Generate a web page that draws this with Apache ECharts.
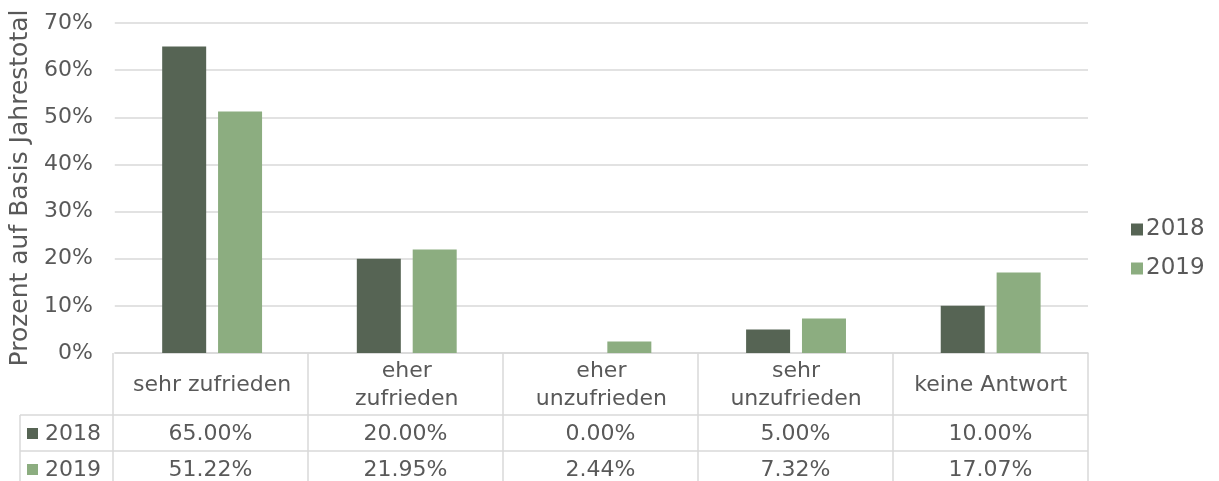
<!DOCTYPE html>
<html>
<head>
<meta charset="utf-8">
<script src="https://cdn.jsdelivr.net/npm/echarts@6/dist/echarts.min.js"></script>
<style>
  html, body { margin: 0; padding: 0; background: #fff; }
  #main { width: 1219px; height: 481px; }
</style>
</head>
<body>
<div id="main"></div>
<script>
// data
const categories = ['sehr zufrieden', 'eher\nzufrieden', 'eher\nunzufrieden', 'sehr\nunzufrieden', 'keine Antwort'];
const years = ['2018', '2019'];
const values2018 = [65.00, 20.00, 0.00, 5.00, 10.00];
const values2019 = [51.22, 21.95, 2.44, 7.32, 17.07];

const colors = ['#566454', '#8CAD80'];
const textColor = '#595959';
const lineColor = '#d9d9d9';
const font = 'DejaVu Sans';
const fs = 22;

const W = 1219, H = 481;
const gridLeft = 113, gridRight = 131, gridTop = 23, gridBottom = 128;
const x0 = gridLeft, x1 = W - gridRight, yAxisBase = H - gridBottom;
const colW = (x1 - x0) / categories.length;
const rowTop = [yAxisBase, yAxisBase + 62, yAxisBase + 98, yAxisBase + 134];
const labelLeft = 20;

var chart = echarts.init(document.getElementById('main'));

// table drawn below the category axis
const graphic = [];
function line(xa, ya, xb, yb) {
    graphic.push({
        type: 'line', silent: true,
        shape: { x1: xa, y1: ya, x2: xb, y2: yb },
        style: { stroke: lineColor, lineWidth: 1.5 }
    });
}
for (let i = 0; i <= categories.length; i++) {
    line(x0 + i * colW, rowTop[0], x0 + i * colW, rowTop[3]);
}
line(labelLeft, rowTop[1], x1, rowTop[1]);
line(labelLeft, rowTop[2], x1, rowTop[2]);
line(labelLeft, rowTop[1], labelLeft, rowTop[3]);

[values2018, values2019].forEach((vals, r) => {
    const cy = (rowTop[r + 1] + rowTop[r + 2]) / 2 + 1;
    graphic.push({
        type: 'rect', silent: true,
        shape: { x: 27, y: cy - 6, width: 11, height: 11 },
        style: { fill: colors[r] }
    });
    graphic.push({
        type: 'text', silent: true, x: 45, y: cy,
        style: { text: years[r], fill: textColor, font: fs + 'px "' + font + '"', verticalAlign: 'middle', align: 'left' }
    });
    vals.forEach((v, i) => {
        graphic.push({
            type: 'text', silent: true, x: x0 + (i + 0.5) * colW, y: cy,
            style: { text: v.toFixed(2) + '%', fill: textColor, font: fs + 'px "' + font + '"', verticalAlign: 'middle', align: 'center' }
        });
    });
});

chart.setOption({
    backgroundColor: '#fff',
    textStyle: { fontFamily: font },
    color: colors,
    grid: { left: gridLeft, right: gridRight, top: gridTop, bottom: gridBottom },
    legend: {
        data: years,
        orient: 'vertical',
        left: 1126,
        top: 213,
        itemWidth: 12,
        itemHeight: 12,
        itemGap: 16,
        icon: 'rect',
        textStyle: { color: textColor, fontSize: 23, fontFamily: font, padding: [0, 0, 0, -2] }
    },
    xAxis: {
        type: 'category',
        data: categories,
        axisTick: { show: false },
        axisLine: { lineStyle: { color: lineColor, width: 1.5 } },
        axisLabel: {
            interval: 0,
            margin: 32,
            verticalAlign: 'middle',
            lineHeight: 28,
            fontSize: fs,
            color: textColor,
            fontFamily: font
        }
    },
    yAxis: {
        type: 'value',
        min: 0,
        max: 70,
        interval: 10,
        name: 'Prozent auf Basis Jahrestotal',
        nameLocation: 'middle',
        nameGap: 72,
        nameTextStyle: { color: textColor, fontSize: 25, fontFamily: font },
        axisLine: { show: false },
        axisTick: { show: false },
        axisLabel: { formatter: '{value}%', margin: 22, fontSize: fs, color: textColor, fontFamily: font },
        splitLine: { lineStyle: { color: lineColor, width: 1.5 } }
    },
    series: [
        { name: years[0], type: 'bar', data: values2018, barWidth: 44, barGap: '27%' },
        { name: years[1], type: 'bar', data: values2019, barWidth: 44, barGap: '27%' }
    ],
    graphic: graphic
});
</script>
</body>
</html>
